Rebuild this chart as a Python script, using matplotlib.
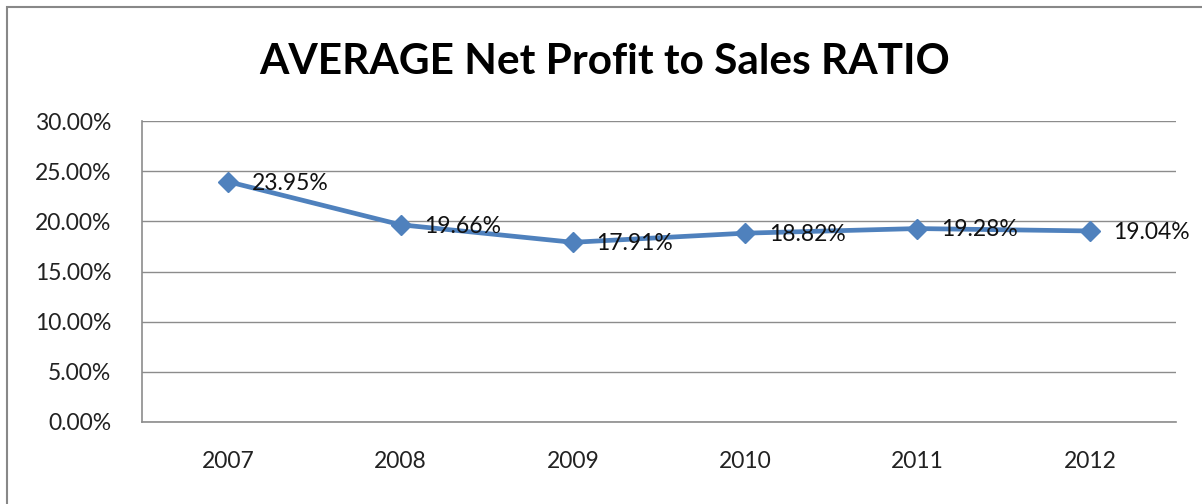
import matplotlib.pyplot as plt
from matplotlib.patches import Rectangle
from matplotlib.ticker import FuncFormatter

years = ['2007', '2008', '2009', '2010', '2011', '2012']
ratio = [23.95, 19.66, 17.91, 18.82, 19.28, 19.04]

plt.rcParams['font.family'] = ['Lato', 'DejaVu Sans']

fig = plt.figure(figsize=(12.02, 5.04), dpi=100)
W, H = 1202, 504

# outer chart border (cut off on the right and bottom in the original)
fig.patches.append(Rectangle((7 / W, -0.1), 1.2, 1 - 7.5 / H + 0.1,
                             transform=fig.transFigure, fill=False,
                             edgecolor='#888888', linewidth=1.5))

ax = fig.add_axes([142 / W, 1 - 422 / H, (1176 - 142) / W, (422 - 121) / H])

x = range(len(years))
ax.plot(x, ratio, color='#4F81BD', linewidth=3.4, marker='D',
        markersize=10, zorder=3)

for i, v in zip(x, ratio):
    ax.annotate(f'{v:.2f}%', (i, v), xytext=(17, -1), textcoords='offset points',
                ha='left', va='center', fontsize=16.5, color='#111111')

ax.set_xlim(-0.5, len(years) - 0.5)
ax.set_ylim(0, 30)
ax.set_yticks(range(0, 31, 5))
ax.yaxis.set_major_formatter(FuncFormatter(lambda v, p: f'{v:.2f}%'))
ax.set_xticks(list(x))
ax.set_xticklabels(years)
ax.tick_params(length=0, labelsize=16.5, colors='#222222')
ax.tick_params(axis='y', pad=22)
ax.tick_params(axis='x', pad=21)

ax.grid(axis='y', color='#8C8C8C', linewidth=1)
ax.set_axisbelow(True)
for s in ['top', 'right']:
    ax.spines[s].set_visible(False)
for s in ['left', 'bottom']:
    ax.spines[s].set_color('#8C8C8C')
    ax.spines[s].set_linewidth(1.2)

fig.text(605 / W, 1 - 62 / H, 'AVERAGE Net Profit to Sales RATIO',
         ha='center', va='center', fontsize=30.5, fontweight='bold')

fig.savefig('out.png', dpi=100)
